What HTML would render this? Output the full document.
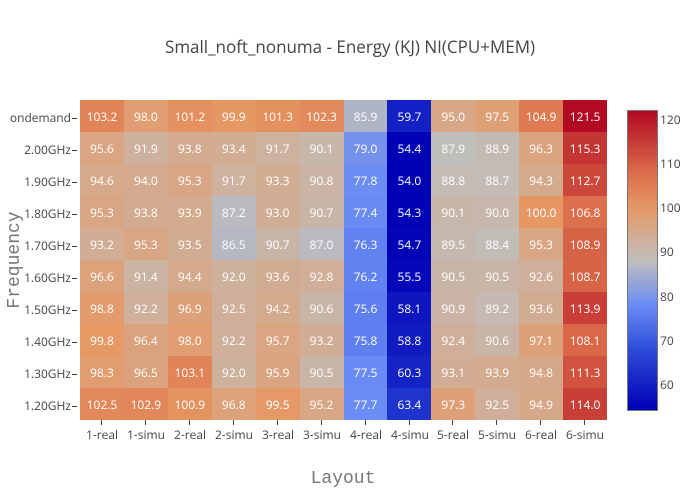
<!DOCTYPE html>
<html><head><style>
body{margin:0;width:700px;height:500px;background:#fff;font-family:"Open Sans","Liberation Sans",sans-serif;position:relative;overflow:hidden}
.t{position:absolute;color:#444;font-size:12px;white-space:nowrap}
#grid{position:absolute;left:80px;top:100px;width:527px;height:320px;display:grid;grid-template-columns:repeat(12,1fr);grid-template-rows:repeat(10,1fr)}
#grid div{color:#fff;font-size:12px;display:flex;align-items:center;justify-content:center}
.yl{position:absolute;right:623px;font-size:12px;color:#444}
.yl:after{content:"";display:inline-block;width:5px;height:1px;background:#444;vertical-align:middle;margin-left:1px}
.xl{position:absolute;top:426px;width:44px;text-align:center;font-size:12px;color:#444}
.xl:before{content:"";position:absolute;left:21px;top:-6px;width:1px;height:5px;background:#444}
</style></head><body>
<div class="t" style="left:0;width:700px;text-align:center;top:35px;font-size:17px">Small_noft_nonuma - Energy (KJ) NI(CPU+MEM)</div>
<div class="t" style="left:-40px;top:250px;width:110px;text-align:center;transform:rotate(-90deg);font-family:'Liberation Mono',monospace;font-size:18px;color:#777">Frequency</div>
<div class="t" style="left:0;width:686px;text-align:center;top:469px;font-family:'Liberation Mono',monospace;font-size:18px;color:#777">Layout</div>
<div id="grid">
<div>103.2</div><div>98.0</div><div>101.2</div><div>99.9</div><div>101.3</div><div>102.3</div><div>85.9</div><div>59.7</div><div>95.0</div><div>97.5</div><div>104.9</div><div>121.5</div>
<div>95.6</div><div>91.9</div><div>93.8</div><div>93.4</div><div>91.7</div><div>90.1</div><div>79.0</div><div>54.4</div><div>87.9</div><div>88.9</div><div>96.3</div><div>115.3</div>
<div>94.6</div><div>94.0</div><div>95.3</div><div>91.7</div><div>93.3</div><div>90.8</div><div>77.8</div><div>54.0</div><div>88.8</div><div>88.7</div><div>94.3</div><div>112.7</div>
<div>95.3</div><div>93.8</div><div>93.9</div><div>87.2</div><div>93.0</div><div>90.7</div><div>77.4</div><div>54.3</div><div>90.1</div><div>90.0</div><div>100.0</div><div>106.8</div>
<div>93.2</div><div>95.3</div><div>93.5</div><div>86.5</div><div>90.7</div><div>87.0</div><div>76.3</div><div>54.7</div><div>89.5</div><div>88.4</div><div>95.3</div><div>108.9</div>
<div>96.6</div><div>91.4</div><div>94.4</div><div>92.0</div><div>93.6</div><div>92.8</div><div>76.2</div><div>55.5</div><div>90.5</div><div>90.5</div><div>92.6</div><div>108.7</div>
<div>98.8</div><div>92.2</div><div>96.9</div><div>92.5</div><div>94.2</div><div>90.6</div><div>75.6</div><div>58.1</div><div>90.9</div><div>89.2</div><div>93.6</div><div>113.9</div>
<div>99.8</div><div>96.4</div><div>98.0</div><div>92.2</div><div>95.7</div><div>93.2</div><div>75.8</div><div>58.8</div><div>92.4</div><div>90.6</div><div>97.1</div><div>108.1</div>
<div>98.3</div><div>96.5</div><div>103.1</div><div>92.0</div><div>95.9</div><div>90.5</div><div>77.5</div><div>60.3</div><div>93.1</div><div>93.9</div><div>94.8</div><div>111.3</div>
<div>102.5</div><div>102.9</div><div>100.9</div><div>96.8</div><div>99.5</div><div>95.2</div><div>77.7</div><div>63.4</div><div>97.3</div><div>92.5</div><div>94.9</div><div>114.0</div>
</div>
<div class="yl" style="top:109px">ondemand</div>
<div class="yl" style="top:141px">2.00GHz</div>
<div class="yl" style="top:173px">1.90GHz</div>
<div class="yl" style="top:205px">1.80GHz</div>
<div class="yl" style="top:237px">1.70GHz</div>
<div class="yl" style="top:269px">1.60GHz</div>
<div class="yl" style="top:301px">1.50GHz</div>
<div class="yl" style="top:333px">1.40GHz</div>
<div class="yl" style="top:365px">1.30GHz</div>
<div class="yl" style="top:397px">1.20GHz</div>
<div class="xl" style="left:80px">1-real</div><div class="xl" style="left:124px">1-simu</div>
<div class="xl" style="left:168px">2-real</div><div class="xl" style="left:212px">2-simu</div>
<div class="xl" style="left:256px">3-real</div><div class="xl" style="left:300px">3-simu</div>
<div class="xl" style="left:344px">4-real</div><div class="xl" style="left:388px">4-simu</div>
<div class="xl" style="left:431px">5-real</div><div class="xl" style="left:475px">5-simu</div>
<div class="xl" style="left:519px">6-real</div><div class="xl" style="left:563px">6-simu</div>
<div id="cb" style="position:absolute;left:627px;top:110px;width:29px;height:299px;border:1px solid #777"></div>
<div class="t" style="left:660px;top:111px">120</div>
<div class="t" style="left:660px;top:155px">110</div>
<div class="t" style="left:660px;top:199px">100</div>
<div class="t" style="left:660px;top:243px">90</div>
<div class="t" style="left:660px;top:288px">80</div>
<div class="t" style="left:660px;top:332px">70</div>
<div class="t" style="left:660px;top:376px">60</div>
<script>
var S=[[0,[0,0,180]],[0.2,[45,75,215]],[0.35,[105,140,245]],[0.5,[192,190,188]],[0.68,[230,152,100]],[0.8,[218,105,72]],[1,[178,10,35]]];
function col(v){var f=(v-54)/67.5;f=Math.max(0,Math.min(1,f));for(var i=1;i<S.length;i++){if(f<=S[i][0]){var a=S[i-1],b=S[i],t=(f-a[0])/(b[0]-a[0]);return 'rgb('+a[1].map(function(c,k){return Math.round(c+(b[1][k]-c)*t)}).join(',')+')';}}}
document.querySelectorAll('#grid div').forEach(function(d){d.style.background=col(parseFloat(d.textContent));});
var g=[];for(var i=0;i<=20;i++){g.push(col(121.5-67.5*i/20)+' '+(i*5)+'%');}
document.getElementById('cb').style.background='linear-gradient('+g.join(',')+')';
</script>
</body></html>
